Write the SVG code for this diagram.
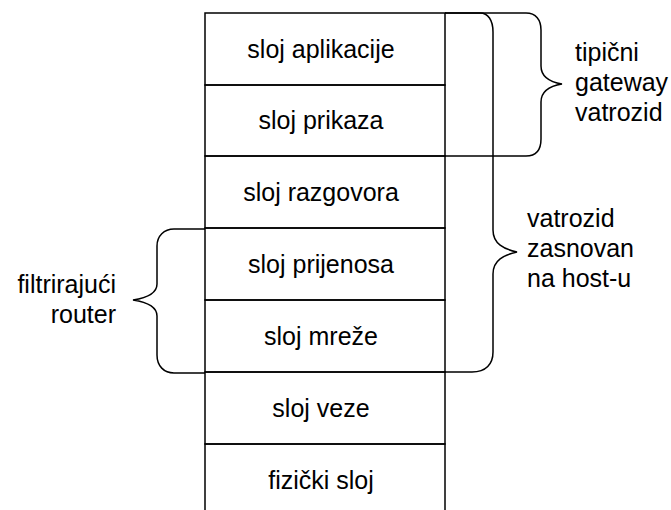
<svg xmlns="http://www.w3.org/2000/svg" width="671" height="510" viewBox="0 0 671 510">
  <style>
    .layer rect { fill: none; stroke: #000; stroke-width: 1.5; }
    .brace { fill: none; stroke: #000; stroke-width: 1.5; }
    text { font-family: "Liberation Sans", Arial, sans-serif; font-size: 25px; fill: #000; }
    .layer text { text-anchor: middle; }
  </style>
  <rect width="671" height="510" fill="#fff"/>

  <!-- OSI layer stack; the bottom layer runs past the lower edge -->
  <g id="layer-application" class="layer">
    <rect x="205" y="13" width="240" height="72"/>
    <text x="321" y="57.5">sloj aplikacije</text>
  </g>
  <g id="layer-presentation" class="layer">
    <rect x="205" y="85" width="240" height="71"/>
    <text x="321" y="129">sloj prikaza</text>
  </g>
  <g id="layer-session" class="layer">
    <rect x="205" y="156" width="240" height="72"/>
    <text x="321" y="200.5">sloj razgovora</text>
  </g>
  <g id="layer-transport" class="layer">
    <rect x="205" y="228" width="240" height="72"/>
    <text x="321" y="272.5">sloj prijenosa</text>
  </g>
  <g id="layer-network" class="layer">
    <rect x="205" y="300" width="240" height="72"/>
    <text x="321" y="344.5">sloj mreže</text>
  </g>
  <g id="layer-datalink" class="layer">
    <rect x="205" y="372" width="240" height="72"/>
    <text x="321" y="416.5">sloj veze</text>
  </g>
  <g id="layer-physical" class="layer">
    <rect x="205" y="444" width="240" height="80"/>
    <text x="321" y="488.5">fizički sloj</text>
  </g>

  <!-- braces marking which layers each firewall type covers -->
  <g id="connectors">
    <path id="brace-host" class="brace" d="M445,13 H480 C488,13 493,20 493,32 V230 C493,244 504,249 517,252 C504,255 493,260 493,274 V352 C493,364 486,372 472,372 H445"/>
    <path id="brace-gateway" class="brace" d="M445,13 H526 C536,13 541,20 541,30 V66 C541,77 550,82 562,84 C550,86 541,91 541,102 V139 C541,150 536,156 526,156 H445"/>
    <path id="brace-router" class="brace" d="M205,229 H174 C164,229 157,236 157,246 V284 C157,294 146,298 133,300 C146,302 157,306 157,316 V355 C157,366 164,373 174,373 H205"/>
  </g>

  <g id="label-gateway">
    <text x="575" y="61">tipični</text>
    <text x="575" y="91">gateway</text>
    <text x="575" y="121">vatrozid</text>
  </g>
  <g id="label-host">
    <text x="527" y="227">vatrozid</text>
    <text x="527" y="257">zasnovan</text>
    <text x="527" y="287">na host-u</text>
  </g>
  <g id="label-router" text-anchor="end">
    <text x="116" y="293">filtrirajući</text>
    <text x="116" y="323">router</text>
  </g>
</svg>
